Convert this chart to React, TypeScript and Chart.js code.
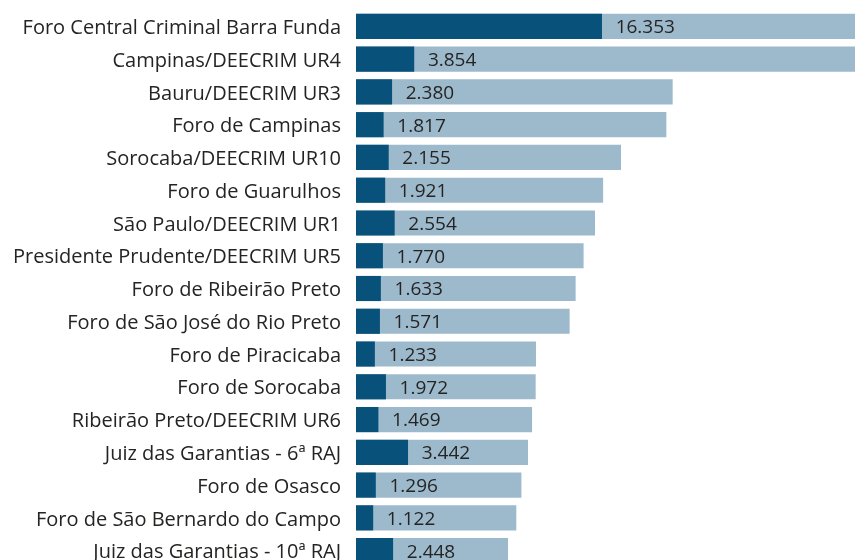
import React, { useEffect, useRef } from "react";
import { Chart, registerables } from "chart.js";

Chart.register(...registerables);

const categories = [
  "Foro Central Criminal Barra Funda",
  "Campinas/DEECRIM UR4",
  "Bauru/DEECRIM UR3",
  "Foro de Campinas",
  "Sorocaba/DEECRIM UR10",
  "Foro de Guarulhos",
  "São Paulo/DEECRIM UR1",
  "Presidente Prudente/DEECRIM UR5",
  "Foro de Ribeirão Preto",
  "Foro de São José do Rio Preto",
  "Foro de Piracicaba",
  "Foro de Sorocaba",
  "Ribeirão Preto/DEECRIM UR6",
  "Juiz das Garantias - 6ª RAJ",
  "Foro de Osasco",
  "Foro de São Bernardo do Campo",
  "Juiz das Garantias - 10ª RAJ",
];

const subsetValues = [
  16353, 3854, 2380, 1817, 2155, 1921, 2554, 1770, 1633, 1571, 1233, 1972,
  1469, 3442, 1296, 1122, 2448,
];

const totalValues = [
  45000, 38000, 21060, 20640, 17620, 16430, 15890, 15130, 14600, 14200, 11960,
  11940, 11700, 11430, 10990, 10650, 10100,
];

const xMax = 33220;

const FONT_FAMILY = '"Segoe UI", "Open Sans", sans-serif';
const TEXT_COLOR = "#252423";
const DARK = "#07517B";
const LIGHT = "#9DBACD";

function fmt(n: number): string {
  return String(n).replace(/\B(?=(\d{3})+(?!\d))/g, ".");
}

const valueLabelPlugin = {
  id: "valueLabels",
  afterDatasetsDraw(chart: any) {
    const meta = chart.getDatasetMeta(0);
    const ctx = chart.ctx;
    ctx.save();
    ctx.font = `19px ${FONT_FAMILY}`;
    ctx.fillStyle = TEXT_COLOR;
    ctx.textBaseline = "middle";
    ctx.textAlign = "left";
    meta.data.forEach((bar: any, i: number) => {
      ctx.fillText(fmt(subsetValues[i]), bar.x + 14, bar.y + 1.5);
    });
    ctx.restore();
  },
};

export default function App() {
  const canvasRef = useRef<HTMLCanvasElement | null>(null);

  useEffect(() => {
    if (!canvasRef.current) return;
    const chart = new Chart(canvasRef.current, {
      type: "bar",
      data: {
        labels: categories,
        datasets: [
          {
            label: "Subset",
            data: subsetValues,
            backgroundColor: DARK,
            grouped: false,
            order: 0,
            barThickness: 24.5,
          },
          {
            label: "Total",
            data: totalValues,
            backgroundColor: LIGHT,
            grouped: false,
            order: 1,
            barThickness: 24.5,
          },
        ],
      },
      options: {
        indexAxis: "y",
        responsive: false,
        animation: false,
        layout: { padding: { top: 10, left: 0, right: 0, bottom: 0 } },
        plugins: {
          legend: { display: false },
          tooltip: { enabled: false },
        },
        scales: {
          x: {
            display: false,
            min: 0,
            max: xMax,
            grid: { display: false },
          },
          y: {
            afterFit: (scale: any) => {
              scale.width = 356;
              scale.paddingTop = 0;
              scale.paddingBottom = 0;
            },
            grid: { display: false, drawTicks: false },
            border: { display: false },
            ticks: {
              autoSkip: false,
              padding: 15,
              labelOffset: 2,
              color: TEXT_COLOR,
              font: { family: FONT_FAMILY, size: 20 },
            },
          },
        },
      },
      plugins: [valueLabelPlugin],
    } as any);
    return () => chart.destroy();
  }, []);

  return (
    <div
      style={{
        position: "fixed",
        left: 0,
        top: 0,
        width: 855,
        height: 560,
        overflow: "hidden",
        background: "#ffffff",
      }}
    >
      <canvas
        ref={canvasRef}
        width={855}
        height={567}
        style={{ display: "block" }}
      />
    </div>
  );
}
